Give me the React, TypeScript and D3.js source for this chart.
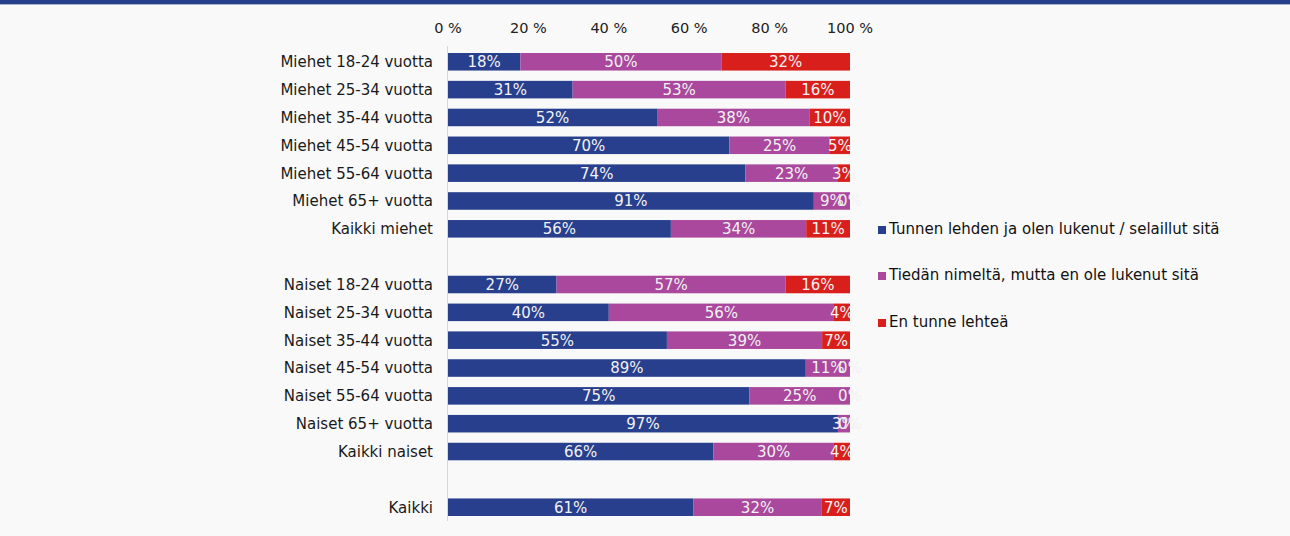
import React, { useRef, useEffect } from 'react';
import * as d3 from 'd3';

const categories = [
  'Miehet 18-24 vuotta',
  'Miehet 25-34 vuotta',
  'Miehet 35-44 vuotta',
  'Miehet 45-54 vuotta',
  'Miehet 55-64 vuotta',
  'Miehet 65+ vuotta',
  'Kaikki miehet',
  '',
  'Naiset 18-24 vuotta',
  'Naiset 25-34 vuotta',
  'Naiset 35-44 vuotta',
  'Naiset 45-54 vuotta',
  'Naiset 55-64 vuotta',
  'Naiset 65+ vuotta',
  'Kaikki naiset',
  ' ',
  'Kaikki',
];

const seriesNames = [
  'Tunnen lehden ja olen lukenut / selaillut sitä',
  'Tiedän nimeltä, mutta en ole lukenut sitä',
  'En tunne lehteä',
];

// null = spacer row
const readValues = [18, 31, 52, 70, 74, 91, 56, null, 27, 40, 55, 89, 75, 97, 66, null, 61];
const nameValues = [50, 53, 38, 25, 23, 9, 34, null, 57, 56, 39, 11, 25, 3, 30, null, 32];
const unknownValues = [32, 16, 10, 5, 3, 0, 11, null, 16, 4, 7, 0, 0, 0, 4, null, 7];

const tickValues = [0, 20, 40, 60, 80, 100];
const colors = ['#273f8d', '#a9489c', '#d91f1b'];

function App() {
  const chartRef = useRef<SVGSVGElement>(null);

  useEffect(() => {
    drawChart();
  }, []);

  const drawChart = () => {
    const svgWidth = 1290;
    const svgHeight = 536;
    const font = 'DejaVu Sans, Verdana, sans-serif';

    const svg = d3.select(chartRef.current);
    svg.selectAll('*').remove();
    svg.attr('width', svgWidth).attr('height', svgHeight);

    svg.append('rect')
      .attr('width', svgWidth)
      .attr('height', svgHeight)
      .attr('fill', '#f9f9f9');

    // top banner stripe
    svg.append('rect')
      .attr('width', svgWidth)
      .attr('height', 4)
      .attr('fill', '#26408c');
    svg.append('rect')
      .attr('y', 4)
      .attr('width', svgWidth)
      .attr('height', 1)
      .attr('fill', '#a9b3cf');

    const xScale = d3.scaleLinear().domain([0, 100]).range([448, 850]);
    const yScale = d3.scaleBand()
      .domain(categories)
      .range([48, 521])
      .paddingInner(0.37)
      .paddingOuter(0.18);

    // axis ticks on top
    svg.append('g')
      .selectAll('text')
      .data(tickValues)
      .enter().append('text')
      .attr('x', d => xScale(d))
      .attr('y', 33)
      .attr('text-anchor', 'middle')
      .attr('font-family', font)
      .attr('font-size', 14.5)
      .attr('fill', '#222')
      .text(d => `${d} %`);

    svg.append('line')
      .attr('x1', xScale(0) - 0.5)
      .attr('x2', xScale(0) - 0.5)
      .attr('y1', 46)
      .attr('y2', 521)
      .attr('stroke', '#d6d6d6')
      .attr('stroke-width', 1);

    const rows = categories.map((c, i) => ({
      name: c,
      values: [readValues[i], nameValues[i], unknownValues[i]],
    })).filter(r => r.values[0] !== null) as { name: string; values: number[] }[];

    const bh = yScale.bandwidth();

    rows.forEach(row => {
      const total = d3.sum(row.values);
      const y = yScale(row.name)!;
      let cum = 0;
      row.values.forEach((v, k) => {
        const x0 = xScale((cum / total) * 100);
        const x1 = xScale(((cum + v) / total) * 100);
        svg.append('rect')
          .attr('x', x0)
          .attr('y', y)
          .attr('width', Math.max(0, x1 - x0))
          .attr('height', bh)
          .attr('fill', colors[k]);
        cum += v;
      });
      cum = 0;
      row.values.forEach(v => {
        const x0 = xScale((cum / total) * 100);
        const x1 = xScale(((cum + v) / total) * 100);
        svg.append('text')
          .attr('x', (x0 + x1) / 2)
          .attr('y', y + bh / 2)
          .attr('dy', '0.36em')
          .attr('text-anchor', 'middle')
          .attr('font-family', font)
          .attr('font-size', 15)
          .attr('fill', '#f2f2f2')
          .text(`${v}%`);
        cum += v;
      });

      svg.append('text')
        .attr('x', 433)
        .attr('y', y + bh / 2)
        .attr('dy', '0.36em')
        .attr('text-anchor', 'end')
        .attr('font-family', font)
        .attr('font-size', 15)
        .attr('fill', '#1a1a1a')
        .text(row.name);
    });

    // legend
    const legendY = [229, 275, 322];
    seriesNames.forEach((s, i) => {
      svg.append('rect')
        .attr('x', 878)
        .attr('y', legendY[i] - 3)
        .attr('width', 8)
        .attr('height', 8)
        .attr('fill', colors[i]);
      svg.append('text')
        .attr('x', 889)
        .attr('y', legendY[i])
        .attr('dy', '0.36em')
        .attr('font-family', font)
        .attr('font-size', 15)
        .attr('fill', '#111')
        .text(s);
    });
  };

  return (
    <div style={{ position: 'absolute', left: 0, top: 0 }}>
      <svg ref={chartRef} style={{ display: 'block' }}></svg>
    </div>
  );
}

export default App;
